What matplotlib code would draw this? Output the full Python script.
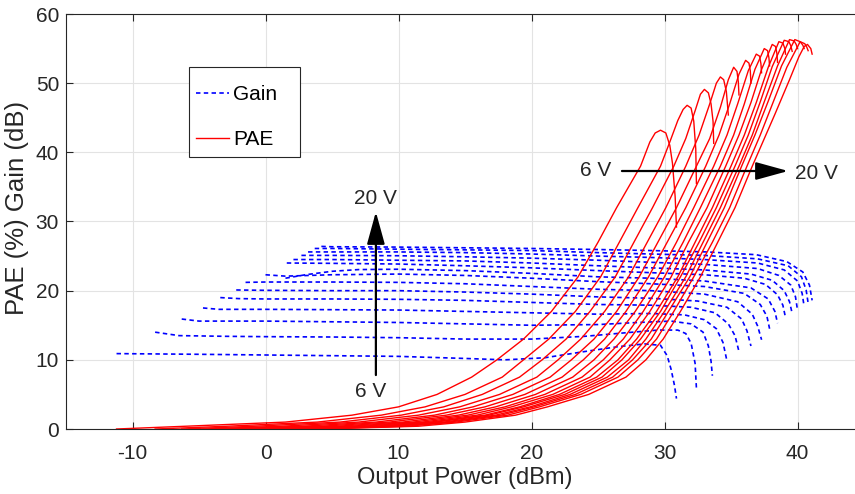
import matplotlib
matplotlib.use("Agg")
import matplotlib.pyplot as plt
from matplotlib.patches import ArrowStyle, Rectangle

plt.rcParams['font.family'] = ['Liberation Sans', 'DejaVu Sans']
plt.rcParams['axes.unicode_minus'] = False
plt.rcParams['lines.scale_dashes'] = False

# ---------------- data ----------------
VOLTS = [6, 7, 8, 9, 10, 11, 12, 13, 14, 15, 16, 17, 18, 19, 20]

# Gain curves (dB) vs output power (dBm)
G6_X = [-11.2, -5, 0, 5, 10, 15, 18, 21, 24, 26.5, 28.5, 29.7, 30.2, 30.5, 30.75, 30.9]
G6_Y = [10.9, 10.8, 10.7, 10.6, 10.5, 10.2, 10.0, 10.3, 11.2, 11.9, 12.3, 12.1, 10.6, 8.6, 6.3, 4.4]
G7_X = [-8.3, -6.5, -3, 0, 5, 10, 15, 20, 24, 27, 29.5, 31.0, 31.6, 32.0, 32.3, 32.4]
G7_Y = [14.0, 13.5, 13.4, 13.35, 13.3, 13.2, 13.0, 13.0, 13.4, 13.9, 14.3, 14.3, 13.8, 12.4, 9.5, 5.9]
G8_X = [-6.3, -5, 0, 5, 10, 15, 20, 25, 28, 30.5, 32.0, 32.9, 33.3, 33.5, 33.6]
G8_Y = [15.9, 15.6, 15.6, 15.5, 15.4, 15.2, 15.0, 15.1, 15.4, 15.6, 15.2, 14.0, 12.0, 9.8, 7.7]
G9_X = [-4.7, -3.5, 0, 5, 10, 15, 20, 25, 29, 31.5, 33.0, 33.9, 34.4, 34.7]
G9_Y = [17.5, 17.3, 17.3, 17.25, 17.2, 17.0, 16.8, 16.6, 16.7, 16.5, 15.8, 14.5, 12.5, 9.8]
G10_X = [-3.4, -2, 0, 5, 10, 15, 20, 25, 29, 32, 33.8, 34.8, 35.3, 35.6]
G10_Y = [19.0, 18.85, 18.8, 18.8, 18.75, 18.6, 18.3, 18.0, 17.9, 17.6, 16.8, 15.2, 13.5, 11.2]
G11_X = [-2.2, 0, 5, 10, 15, 20, 25, 29, 32.5, 34.7, 35.8, 36.2, 36.5]
G11_Y = [20.1, 20.05, 20.0, 20.0, 19.8, 19.5, 19.1, 18.9, 18.5, 17.6, 15.9, 14.2, 12.0]
G12_X = [-1.5, 0, 5, 10, 15, 20, 25, 29, 33, 35.5, 36.6, 37.0, 37.3]
G12_Y = [21.2, 21.25, 21.25, 21.2, 21.0, 20.6, 20.2, 20.0, 19.5, 18.4, 16.6, 14.9, 12.9]
G13_X = [0, 1.5, 5, 10, 15, 20, 25, 29, 33, 36, 37.2, 37.7, 37.9]
G13_Y = [22.3, 22.1, 22.3, 22.4, 22.2, 21.8, 21.3, 21.0, 20.6, 19.6, 18.0, 16.3, 14.5]
G14_X = [1.5, 3, 5, 7, 10, 15, 20, 25, 29, 33, 36.5, 37.8, 38.3, 38.5]
G14_Y = [21.8, 22.3, 22.8, 23.05, 23.1, 22.9, 22.5, 22.0, 21.8, 21.4, 20.4, 18.8, 17.0, 15.3]
G15_X = [1.6, 5, 10, 15, 20, 25, 29, 33, 36, 37.6, 38.5, 38.9, 39.1]
G15_Y = [24.0, 23.95, 23.85, 23.6, 23.3, 22.9, 22.6, 22.3, 21.8, 20.9, 19.4, 17.9, 16.1]
G16_X = [2.1, 5, 10, 15, 20, 25, 29, 33, 36.5, 38.1, 39.0, 39.4, 39.6]
G16_Y = [24.5, 24.5, 24.4, 24.3, 24.0, 23.6, 23.3, 23.0, 22.4, 21.5, 20.0, 18.4, 16.7]
G17_X = [2.7, 5, 10, 15, 20, 25, 29, 33, 37, 38.6, 39.5, 39.85, 40.0]
G17_Y = [25.1, 25.1, 25.05, 24.9, 24.7, 24.4, 24.1, 23.8, 23.2, 22.2, 20.8, 19.1, 17.2]
G18_X = [3.2, 5, 10, 15, 20, 25, 29, 33, 37, 39.0, 40.0, 40.35, 40.5]
G18_Y = [25.6, 25.6, 25.6, 25.5, 25.3, 25.0, 24.8, 24.5, 24.0, 23.0, 21.4, 19.6, 17.7]
G19_X = [3.7, 5, 10, 15, 20, 25, 29, 33, 37, 39.3, 40.3, 40.65, 40.8]
G19_Y = [26.1, 26.1, 26.0, 25.9, 25.8, 25.5, 25.3, 25.1, 24.6, 23.6, 22.0, 20.1, 18.2]
G20_X = [4.2, 5, 10, 15, 20, 25, 29, 33.2, 36.9, 39.2, 40.4, 40.9, 41.1]
G20_Y = [26.4, 26.35, 26.3, 26.2, 26.1, 25.95, 25.8, 25.6, 25.2, 24.2, 22.7, 20.8, 18.6]

# PAE (%) curves: output power (dBm) where PAE reaches each level,
# followed by the peak / roll-off section of every curve
PAE_LEVELS = [0, 0.4, 1, 2, 3.2, 5, 7.5, 10, 13, 17, 22, 27, 32, 38]
P6_RISE_X = [-11.2, -6.0, 1.5, 6.5, 10.0, 12.9, 15.5, 17.4, 19.4, 21.5, 23.5, 25.0, 26.4, 28.2]
P6_TOP_X = [28.9, 29.3, 29.7, 30.1, 30.4, 30.6, 30.8, 30.9]
P6_TOP_Y = [41.5, 42.8, 43.2, 42.8, 41.0, 38.4, 33.6, 29.2]
P7_RISE_X = [-8.3, -2.9, 3.9, 8.7, 12.0, 15.0, 17.8, 19.4, 21.3, 23.3, 25.2, 26.6, 28.0, 29.7]
P7_TOP_X = [30.4, 31.0, 31.4, 31.7, 32.0, 32.2, 32.35, 32.4]
P7_TOP_Y = [41.5, 44.6, 46.2, 46.8, 46.4, 44.5, 40.5, 35.5]
P8_RISE_X = [-6.3, -0.8, 5.6, 10.2, 13.4, 16.3, 19.1, 20.8, 22.6, 24.4, 26.3, 27.7, 29.1, 30.7]
P8_TOP_X = [31.6, 32.3, 32.7, 33.0, 33.3, 33.5, 33.65, 33.7]
P8_TOP_Y = [42.0, 46.0, 48.4, 49.1, 48.6, 47.0, 44.5, 41.3]
P9_RISE_X = [-4.7, 1.2, 7.0, 11.5, 14.6, 17.6, 20.4, 22.0, 23.7, 25.5, 27.3, 28.7, 30.1, 31.6]
P9_TOP_X = [32.6, 33.4, 33.9, 34.2, 34.45, 34.65, 34.8]
P9_TOP_Y = [42.5, 47.0, 50.0, 50.9, 50.5, 48.8, 45.4]
P10_RISE_X = [-3.4, 2.8, 8.3, 12.7, 15.6, 18.6, 21.4, 23.0, 24.7, 26.4, 28.1, 29.5, 30.9, 32.4]
P10_TOP_X = [33.4, 34.2, 34.8, 35.2, 35.45, 35.55, 35.6]
P10_TOP_Y = [42.0, 46.5, 50.5, 52.3, 51.7, 50.2, 48.3]
P11_RISE_X = [-2.2, 4.2, 9.3, 13.6, 16.5, 19.5, 22.3, 23.9, 25.5, 27.1, 28.8, 30.2, 31.6, 33.1]
P11_TOP_X = [34.1, 34.9, 35.6, 36.1, 36.35, 36.45, 36.5]
P11_TOP_Y = [42.5, 47.0, 51.3, 53.3, 52.9, 51.8, 50.0]
P12_RISE_X = [-1.5, 5.4, 10.3, 14.5, 17.3, 20.3, 23.1, 24.7, 26.2, 27.8, 29.5, 30.9, 32.2, 33.7]
P12_TOP_X = [34.7, 35.5, 36.3, 36.9, 37.15, 37.25, 37.3]
P12_TOP_Y = [42.5, 47.0, 51.8, 54.2, 53.9, 52.8, 51.5]
P13_RISE_X = [0.0, 6.4, 11.1, 15.2, 18.0, 21.0, 23.8, 25.4, 26.9, 28.4, 30.0, 31.4, 32.7, 34.2]
P13_TOP_X = [35.2, 36.0, 36.8, 37.5, 37.75, 37.85, 37.9]
P13_TOP_Y = [42.5, 47.0, 52.0, 55.0, 54.7, 53.7, 52.5]
P14_RISE_X = [1.5, 7.3, 11.8, 15.9, 18.5, 21.6, 24.4, 25.9, 27.4, 28.9, 30.5, 31.8, 33.2, 34.6]
P14_TOP_X = [35.6, 36.5, 37.3, 38.1, 38.35, 38.45, 38.5]
P14_TOP_Y = [42.5, 47.2, 52.0, 55.6, 55.3, 54.3, 53.0]
P15_RISE_X = [1.6, 8.2, 12.4, 16.5, 19.1, 22.1, 24.9, 26.5, 27.9, 29.4, 31.0, 32.3, 33.6, 35.0]
P15_TOP_X = [36.0, 36.9, 37.8, 38.6, 38.9, 39.05, 39.1]
P15_TOP_Y = [42.5, 47.2, 52.3, 56.0, 55.8, 55.0, 54.2]
P16_RISE_X = [2.1, 8.7, 12.8, 16.8, 19.4, 22.5, 25.3, 26.8, 28.2, 29.7, 31.2, 32.6, 33.9, 35.3]
P16_TOP_X = [36.3, 37.2, 38.1, 39.0, 39.35, 39.5, 39.6]
P16_TOP_Y = [42.5, 47.3, 52.4, 56.2, 56.0, 55.4, 54.6]
P17_RISE_X = [2.7, 9.4, 13.4, 17.3, 19.9, 22.9, 25.7, 27.3, 28.6, 30.0, 31.6, 32.9, 34.2, 35.6]
P17_TOP_X = [36.6, 37.5, 38.5, 39.4, 39.75, 39.9, 40.0]
P17_TOP_Y = [42.5, 47.3, 52.5, 56.3, 56.1, 55.6, 55.0]
P18_RISE_X = [3.2, 9.9, 13.8, 17.7, 20.2, 23.3, 26.1, 27.6, 29.0, 30.3, 31.9, 33.2, 34.5, 35.8]
P18_TOP_X = [36.8, 37.8, 38.8, 39.8, 40.2, 40.4, 40.5]
P18_TOP_Y = [42.5, 47.4, 52.5, 56.3, 56.0, 55.5, 55.0]
P19_RISE_X = [3.7, 10.6, 14.3, 18.2, 20.6, 23.7, 26.5, 28.0, 29.4, 30.7, 32.2, 33.6, 34.9, 36.2]
P19_TOP_X = [37.2, 38.2, 39.2, 40.2, 40.55, 40.7, 40.8]
P19_TOP_Y = [42.5, 47.4, 52.3, 56.0, 55.7, 55.2, 54.7]
P20_RISE_X = [4.2, 11.5, 15.0, 18.8, 21.2, 24.3, 27.1, 28.6, 29.9, 31.2, 32.7, 34.0, 35.3, 36.6]
P20_TOP_X = [38.3, 39.4, 40.1, 40.5, 40.75, 41.0, 41.1]
P20_TOP_Y = [45.5, 50.5, 53.8, 55.3, 55.6, 55.0, 54.2]

GAIN = [(G6_X, G6_Y), (G7_X, G7_Y), (G8_X, G8_Y), (G9_X, G9_Y), (G10_X, G10_Y),
        (G11_X, G11_Y), (G12_X, G12_Y), (G13_X, G13_Y), (G14_X, G14_Y), (G15_X, G15_Y),
        (G16_X, G16_Y), (G17_X, G17_Y), (G18_X, G18_Y), (G19_X, G19_Y), (G20_X, G20_Y)]
PAE = [(P6_RISE_X, P6_TOP_X, P6_TOP_Y), (P7_RISE_X, P7_TOP_X, P7_TOP_Y),
       (P8_RISE_X, P8_TOP_X, P8_TOP_Y), (P9_RISE_X, P9_TOP_X, P9_TOP_Y),
       (P10_RISE_X, P10_TOP_X, P10_TOP_Y), (P11_RISE_X, P11_TOP_X, P11_TOP_Y),
       (P12_RISE_X, P12_TOP_X, P12_TOP_Y), (P13_RISE_X, P13_TOP_X, P13_TOP_Y),
       (P14_RISE_X, P14_TOP_X, P14_TOP_Y), (P15_RISE_X, P15_TOP_X, P15_TOP_Y),
       (P16_RISE_X, P16_TOP_X, P16_TOP_Y), (P17_RISE_X, P17_TOP_X, P17_TOP_Y),
       (P18_RISE_X, P18_TOP_X, P18_TOP_Y), (P19_RISE_X, P19_TOP_X, P19_TOP_Y),
       (P20_RISE_X, P20_TOP_X, P20_TOP_Y)]

X_TICKS = [-10, 0, 10, 20, 30, 40]
Y_TICKS = [0, 10, 20, 30, 40, 50, 60]

# ---------------- figure ----------------
W, H = 855, 494
fig = plt.figure(figsize=(W / 100, H / 100), dpi=100)
ax = fig.add_axes([66 / W, (H - 429) / H, 798 / W, 415 / H])

TXT = '#262626'
for i, (gx, gy) in enumerate(GAIN):
    ax.plot(gx, gy, color='#0000ff', lw=1.2, linestyle=(0, (3.2, 2.4)),
            label='Gain' if i == 0 else None)
for i, (rx, tx, ty) in enumerate(PAE):
    ax.plot(list(rx) + list(tx), PAE_LEVELS + list(ty), color='#ff0000', lw=1.0,
            label='PAE' if i == 0 else None)

ax.set_xlim(-15, 45)
ax.set_ylim(0, 60)
ax.set_xticks(X_TICKS)
ax.set_yticks(Y_TICKS)
ax.grid(True, color='#e3e3e3', lw=0.8)
ax.set_axisbelow(True)
ax.tick_params(direction='in', length=5, width=0.8, colors=TXT, labelsize=15,
               top=True, right=True)
ax.tick_params(axis='x', pad=11)
ax.tick_params(axis='y', pad=5)
for s in ax.spines.values():
    s.set_color(TXT)
    s.set_linewidth(0.8)
ax.set_xlabel('Output Power (dBm)', fontsize=17, color=TXT, labelpad=3)
ax.set_ylabel('PAE (%) Gain (dB)', fontsize=18.5, color=TXT)
ax.yaxis.set_label_coords(-0.046, 0.533)

astyle = ArrowStyle('-|>', head_length=2.0, head_width=0.55)
ax.annotate('', xy=(8.3, 31.4), xytext=(8.3, 7.8),
            arrowprops=dict(arrowstyle=astyle, color='black', lw=1.6,
                            mutation_scale=10, shrinkA=0, shrinkB=0))
ax.annotate('', xy=(39.3, 37.3), xytext=(26.8, 37.3),
            arrowprops=dict(arrowstyle=astyle, color='black', lw=1.6,
                            mutation_scale=10, shrinkA=0, shrinkB=0))
ax.text(8.3, 33.3, '20 V', fontsize=15, color=TXT, ha='center', va='center')
ax.text(7.9, 5.4, '6 V', fontsize=15, color=TXT, ha='center', va='center')
ax.text(24.8, 37.4, '6 V', fontsize=15, color=TXT, ha='center', va='center')
ax.text(41.4, 36.9, '20 V', fontsize=15, color=TXT, ha='center', va='center')

# legend box (drawn separately, MATLAB style with wide right margin)
box = Rectangle((189 / W, (H - 157) / H), 111 / W, 90 / H, transform=fig.transFigure,
                facecolor='white', edgecolor=TXT, lw=0.8, zorder=4.5, clip_on=False)
ax.add_patch(box)
leg = ax.legend(loc='upper left', bbox_to_anchor=((196 - 66) / 798, (429 - 85) / 415),
                borderaxespad=0, fontsize=15, frameon=False,
                handlelength=1.6, handletextpad=0.2, labelspacing=1.25, borderpad=0)
leg.set_zorder(5)
for t in leg.get_texts():
    t.set_color('black')

fig.savefig('out.png', dpi=100)
